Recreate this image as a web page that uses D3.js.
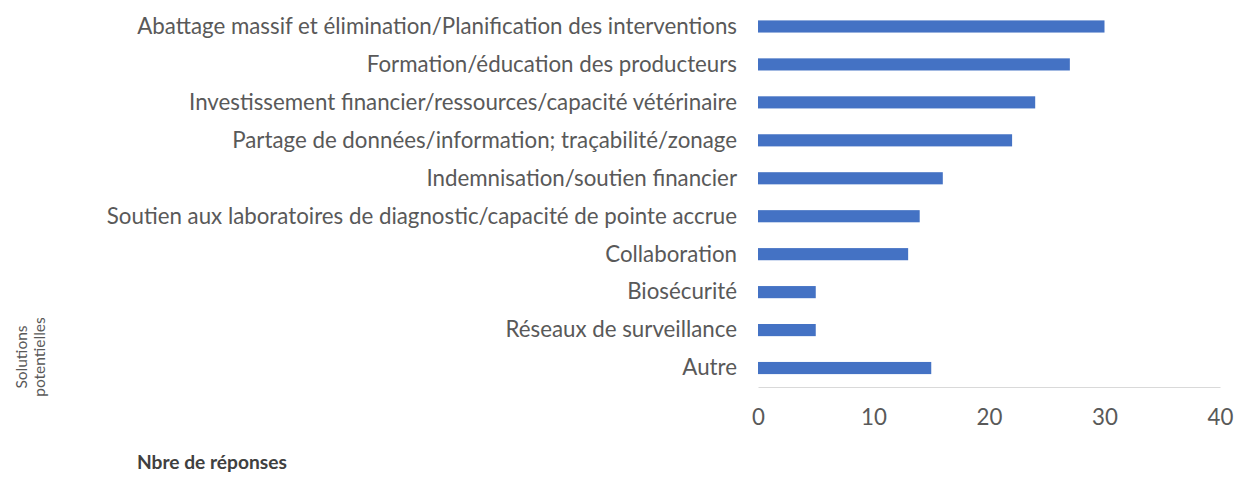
<!DOCTYPE html>
<html>
<head>
<meta charset="utf-8">
<script src="https://cdn.jsdelivr.net/npm/d3@7"></script>
<style>
  body { margin: 0; background: #fff; }
  text { font-family: Lato, "Open Sans", sans-serif; }
</style>
</head>
<body>
<div id="chart"></div>
<script>
const solutions = [
  "Abattage massif et élimination/Planification des interventions",
  "Formation/éducation des producteurs",
  "Investissement financier/ressources/capacité vétérinaire",
  "Partage de données/information; traçabilité/zonage",
  "Indemnisation/soutien financier",
  "Soutien aux laboratoires de diagnostic/capacité de pointe accrue",
  "Collaboration",
  "Biosécurité",
  "Réseaux de surveillance",
  "Autre",
];
const responses = [30, 27, 24, 22, 16, 14, 13, 5, 5, 15];
const xTicks = [0, 10, 20, 30, 40];

const width = 1234;
const height = 477;

const svg = d3
  .select("#chart")
  .append("svg")
  .attr("width", width)
  .attr("height", height);

const x = d3.scaleLinear().domain([0, 40]).range([758, 1220]);

const y = d3
  .scaleBand()
  .domain(solutions)
  .range([7.5, 387])
  .paddingInner(0.68)
  .paddingOuter(0.34);

// bars
svg
  .selectAll("rect.bar")
  .data(solutions)
  .join("rect")
  .attr("class", "bar")
  .attr("x", x(0))
  .attr("y", (d) => y(d))
  .attr("width", (d, i) => x(responses[i]) - x(0))
  .attr("height", y.bandwidth())
  .attr("fill", "#4472c4");

// category labels
const labels = svg
  .selectAll("text.cat")
  .data(solutions)
  .join("text")
  .attr("class", "cat")
  .attr("x", 737)
  .attr("y", (d) => y(d) + y.bandwidth() / 2)
  .attr("dy", "0.33em")
  .attr("text-anchor", "end")
  .attr("font-size", 18)
  .attr("fill", "#595959")
  .text((d) => d);

// fit the longest label to the reference width (x 137 -> 737)
const longest = labels.filter((d) => d === solutions[0]).node();
const labelSize = (18 * 600) / longest.getComputedTextLength();
labels.attr("font-size", labelSize);

// x axis
const xAxis = svg
  .append("g")
  .attr("transform", "translate(0,387)")
  .call(d3.axisBottom(x).tickValues(xTicks).tickSize(0).tickPadding(22));

xAxis.select(".domain").attr("stroke", "#d9d9d9").attr("stroke-width", 1);
xAxis
  .selectAll(".tick text")
  .attr("font-family", "Lato, 'Open Sans', sans-serif")
  .attr("font-size", labelSize)
  .attr("fill", "#595959");

// rotated axis title
const yTitle = svg
  .append("text")
  .attr("transform", "translate(29,357) rotate(-90)")
  .attr("text-anchor", "middle")
  .attr("font-size", 15.5)
  .attr("fill", "#595959");
yTitle.append("tspan").attr("x", 0).attr("dy", "-0.1em").text("Solutions");
yTitle.append("tspan").attr("x", 0).attr("dy", "1.15em").text("potentielles");

const xTitle = svg
  .append("text")
  .attr("x", 137)
  .attr("y", 469)
  .attr("font-size", 16)
  .attr("font-weight", "bold")
  .attr("fill", "#404040")
  .text("Nbre de réponses");
xTitle.attr("font-size", (16 * 150) / xTitle.node().getComputedTextLength());
</script>
</body>
</html>
